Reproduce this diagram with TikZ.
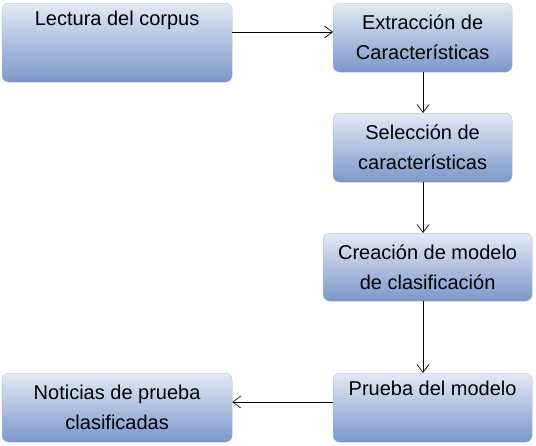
\documentclass[tikz,border=0pt]{standalone}
\usepackage{fontspec}
\setmainfont{Liberation Sans}
\usetikzlibrary{arrows.meta,positioning}
\definecolor{boxtop}{HTML}{E4E9F5}
\definecolor{boxbot}{HTML}{7B97CA}

\begin{document}
\begin{tikzpicture}[
  x=0.75pt, y=-0.75pt,
  font=\fontsize{15}{22.5}\selectfont,
  stepbox/.style={anchor=north west, rounded corners=5pt, top color=boxtop, bottom color=boxbot,
    draw=boxbot!70, line width=0.2pt, align=center, inner sep=0pt},
  toplabel/.style={label={[anchor=north, inner sep=0pt, yshift=-6pt]north:#1}},
  flow/.style={->, line width=0.5pt},
  >={Straight Barb[length=6pt,width=9pt]}
]
\useasboundingbox (0,0) rectangle (536,446);

% ---- boxes ----
\node[stepbox, minimum width=230*0.75pt, minimum height=79*0.75pt, toplabel={Lectura del corpus}] (lectura) at (2,3) {};
\node[stepbox, minimum width=179*0.75pt, minimum height=69*0.75pt] (extrac) at (333,3) {Extracción de\\ Características};
\node[stepbox, minimum width=179*0.75pt, minimum height=69*0.75pt] (selec) at (333,113) {Selección de\\ características};
\node[stepbox, minimum width=209*0.75pt, minimum height=68*0.75pt] (creac) at (323,233) {Creación de modelo\\ de clasificación};
\node[stepbox, minimum width=199*0.75pt, minimum height=69*0.75pt, toplabel={Prueba del modelo}] (prueba) at (333,373) {};
\node[stepbox, minimum width=230*0.75pt, minimum height=69*0.75pt] (noticias) at (2,373) {Noticias de prueba\\ clasificadas};

% ---- arrows ----
\draw[flow] (lectura.east |- 0,32) -- (extrac.west |- 0,32);
\draw[flow] (extrac.south -| 423,0) -- (selec.north -| 423,0);
\draw[flow] (selec.south -| 423,0) -- (creac.north -| 423,0);
\draw[flow] (creac.south -| 423,0) -- (prueba.north -| 423,0);
\draw[flow] (prueba.west |- 0,402) -- (noticias.east |- 0,402);

\end{tikzpicture}
\end{document}
